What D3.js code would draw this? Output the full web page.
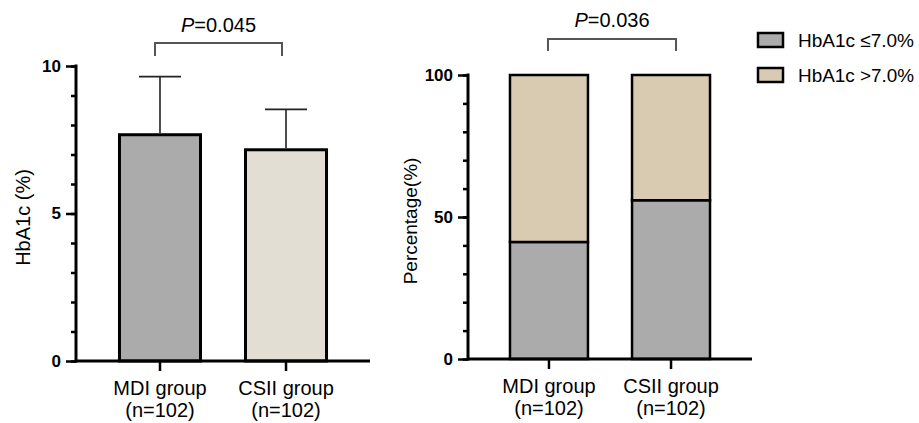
<!DOCTYPE html>
<html>
<head>
<meta charset="utf-8">
<script src="https://cdn.jsdelivr.net/npm/d3@7"></script>
<style>
  body { margin: 0; background: #fff; }
  svg { font-family: Arial, "Liberation Sans", sans-serif; }
</style>
</head>
<body>
<svg id="chart" width="919" height="423"></svg>
<script>
// ---- data ----
const groups = ["MDI group", "CSII group"];
const groupN = ["(n=102)", "(n=102)"];
const hba1cMean = [7.67, 7.16];
const hba1cSD = [1.97, 1.37];
const pctLow = [41.2, 55.9];    // HbA1c ≤7.0%
const pctHigh = [58.8, 44.1];   // HbA1c >7.0%
const seriesNames = ["HbA1c ≤7.0%", "HbA1c >7.0%"];
const leftTicks = [0, 5, 10];
const rightTicks = [0, 50, 100];
const pLeft = "0.045";
const pRight = "0.036";

// ---- styles ----
const colBar = ["#ababab", "#e2ded4"];
const colStack = ["#ababab", "#d9cbb1"];
const svg = d3.select("#chart");

function drawAxes(g, x, y, majorTicks, minorStep, ymax, labelText, labelX, labelSize) {
  const y0 = y(0);
  // minor ticks
  g.append("g").attr("transform", `translate(${x.range()[0]},0)`)
    .call(d3.axisLeft(y).tickValues(d3.range(0, ymax + 1e-9, minorStep)).tickSize(5).tickFormat(""))
    .call(a => a.select(".domain").remove())
    .call(a => a.selectAll("line").attr("stroke", "#000").attr("stroke-width", 2.5));
  // major ticks + labels
  g.append("g").attr("transform", `translate(${x.range()[0]},0)`)
    .call(d3.axisLeft(y).tickValues(majorTicks).tickSize(10).tickPadding(5))
    .call(a => a.select(".domain").remove())
    .call(a => a.selectAll("line").attr("stroke", "#000").attr("stroke-width", 2.5))
    .call(a => a.selectAll("text").attr("font-size", 17).attr("font-weight", "bold").attr("fill", "#000")
      .attr("font-family", "Arial, 'Liberation Sans', sans-serif"));
  // y axis line
  g.append("line").attr("x1", x.range()[0]).attr("x2", x.range()[0])
    .attr("y1", y(ymax) - 1.5).attr("y2", y0 + 1.5)
    .attr("stroke", "#000").attr("stroke-width", 3);
  // x axis line
  g.append("line").attr("x1", x.range()[0]).attr("x2", x.range()[1])
    .attr("y1", y0).attr("y2", y0).attr("stroke", "#000").attr("stroke-width", 3);
  // x ticks
  groups.forEach((c, i) => {
    const cx = x(c) + x.bandwidth() / 2;
    g.append("line").attr("x1", cx).attr("x2", cx).attr("y1", y0).attr("y2", y0 + 10)
      .attr("stroke", "#000").attr("stroke-width", 2.5);
    g.append("text").attr("x", cx).attr("y", y0 + 34).attr("text-anchor", "middle")
      .attr("font-size", 20).text(c);
    g.append("text").attr("x", cx).attr("y", y0 + 56).attr("text-anchor", "middle")
      .attr("font-size", 20).text(groupN[i]);
  });
  // y label
  const yc = (y(ymax) + y0) / 2 + 4;
  g.append("text").attr("transform", `translate(${labelX},${yc}) rotate(-90)`)
    .attr("text-anchor", "middle").attr("dominant-baseline", "central")
    .attr("font-size", labelSize).text(labelText);
}

function bracket(g, xa, xb, yTop, yBot, p, pBase) {
  g.append("path").attr("d", `M${xa},${yBot}V${yTop}H${xb}V${yBot}`)
    .attr("fill", "none").attr("stroke", "#555").attr("stroke-width", 2);
  const t = g.append("text").attr("x", (xa + xb) / 2).attr("y", pBase)
    .attr("text-anchor", "middle").attr("font-size", 20);
  t.append("tspan").attr("font-style", "italic").text("P");
  t.append("tspan").text("=" + p);
}

// ---- left chart ----
{
  const g = svg.append("g");
  const x = d3.scaleBand().domain(groups).range([76, 370]).paddingInner(0.357).paddingOuter(0.345);
  const y = d3.scaleLinear().domain([0, 10]).range([361, 66]);
  g.selectAll("rect.bar").data(groups).enter().append("rect")
    .attr("x", d => x(d)).attr("width", x.bandwidth())
    .attr("y", (d, i) => y(hba1cMean[i])).attr("height", (d, i) => y(0) - y(hba1cMean[i]))
    .attr("fill", (d, i) => colBar[i]).attr("stroke", "#000").attr("stroke-width", 3);
  groups.forEach((d, i) => {
    const cx = x(d) + x.bandwidth() / 2;
    const top = y(hba1cMean[i] + hba1cSD[i]);
    g.append("line").attr("x1", cx).attr("x2", cx).attr("y1", y(hba1cMean[i]) - 1.5).attr("y2", top)
      .attr("stroke", "#222").attr("stroke-width", 1.6);
    g.append("line").attr("x1", cx - 21).attr("x2", cx + 21).attr("y1", top).attr("y2", top)
      .attr("stroke", "#222").attr("stroke-width", 1.6);
  });
  drawAxes(g, x, y, leftTicks, 1, 10, "HbA1c (%)", 23, 20);
  const c0 = x(groups[0]) + x.bandwidth() / 2, c1 = x(groups[1]) + x.bandwidth() / 2;
  bracket(g, c0 - 5, c1 - 4, 43, 56, pLeft, 32);
}

// ---- right chart ----
{
  const g = svg.append("g");
  const x = d3.scaleBand().domain(groups).range([468, 752]).paddingInner(0.361).paddingOuter(0.344);
  const y = d3.scaleLinear().domain([0, 100]).range([359, 75]);
  const rows = groups.map((gname, i) => ({ group: gname, low: pctLow[i], high: pctHigh[i] }));
  const stack = d3.stack().keys(["low", "high"])(rows);
  stack.forEach((layer, li) => {
    g.selectAll(null).data(layer).enter().append("rect")
      .attr("x", d => x(d.data.group)).attr("width", x.bandwidth())
      .attr("y", d => y(d[1])).attr("height", d => y(d[0]) - y(d[1]))
      .attr("fill", colStack[li]).attr("stroke", "#000").attr("stroke-width", 2.5);
  });
  drawAxes(g, x, y, rightTicks, 10, 100, "Percentage(%)", 410, 19);
  const c0 = x(groups[0]) + x.bandwidth() / 2, c1 = x(groups[1]) + x.bandwidth() / 2;
  bracket(g, c0 - 1, c1 + 5, 39, 51, pRight, 27);

  // legend
  const lg = svg.append("g");
  seriesNames.forEach((s, i) => {
    const yy = 33 + i * 35;
    lg.append("rect").attr("x", 758).attr("y", yy).attr("width", 25).attr("height", 14)
      .attr("fill", colStack[i]).attr("stroke", "#000").attr("stroke-width", 2.5);
    lg.append("text").attr("x", 798).attr("y", yy + 14).attr("font-size", 19)
      .attr("textLength", 116).attr("lengthAdjust", "spacingAndGlyphs").text(s);
  });
}
</script>
</body>
</html>
